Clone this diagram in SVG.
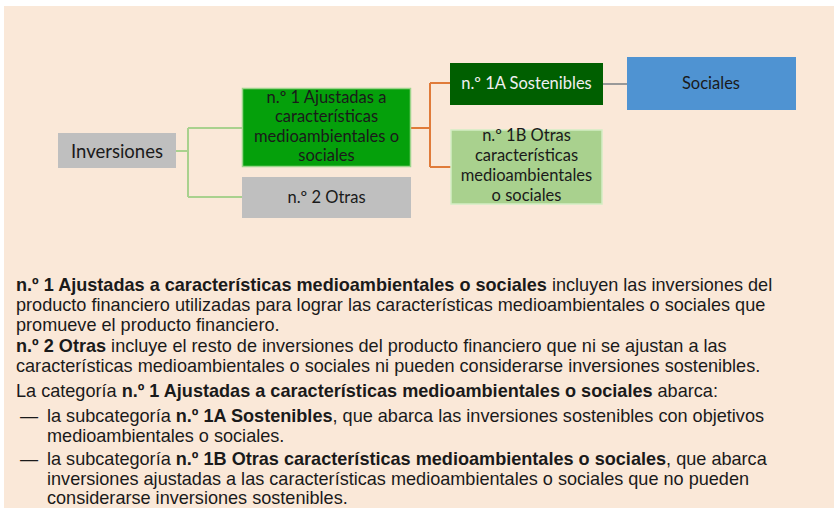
<svg xmlns="http://www.w3.org/2000/svg" width="834" height="508" viewBox="0 0 834 508">
<style>
.n{font-family:Lato,"Noto Sans",sans-serif;font-size:16.5px;text-anchor:middle;fill:#1a1a1a}
.t{font-family:"Liberation Sans",Arial,sans-serif;font-size:18.1px;fill:#1a1a1a}
.b{font-weight:bold}
.c{fill:none;stroke-width:2}
</style>
<rect x="4" y="6" width="830" height="502" fill="#FAE8D8"/>
<g id="connectors">
<path class="c" stroke="#A9D18E" d="M176 151H188M188 128V197M188 128H242M188 197H242"/>
<path class="c" stroke="#E07B39" d="M411 128H430M430 83V167M430 83H450M430 167H451"/>
<path class="c" stroke="#999999" d="M603 84H627"/>
</g>
<g id="inversiones">
<rect x="58" y="133" width="118" height="35" fill="#BFBFBF"/>
<text class="n" x="117" y="158" style="font-size:18.5px">Inversiones</text>
</g>
<g id="n1">
<rect x="242.5" y="88.5" width="168" height="78" fill="#05A00B" stroke="#9CD48A" stroke-width="1.5"/>
<text class="n" x="326.5" y="103">n.º 1 Ajustadas a</text>
<text class="n" x="326.5" y="122">características</text>
<text class="n" x="326.5" y="142">medioambientales o</text>
<text class="n" x="326.5" y="161">sociales</text>
</g>
<g id="n2">
<rect x="242" y="177" width="169" height="41" fill="#BFBFBF"/>
<text class="n" x="326.5" y="203">n.º 2 Otras</text>
</g>
<g id="n1a">
<rect x="450" y="63" width="153" height="42" fill="#005F00"/>
<text class="n" x="526.5" y="89" style="fill:#F0F0F0">n.º 1A Sostenibles</text>
</g>
<g id="sociales">
<rect x="627" y="57" width="169" height="53" fill="#4F93D2"/>
<text class="n" x="711" y="89">Sociales</text>
</g>
<g id="n1b">
<rect x="451" y="130" width="151" height="74" fill="#A9D18E" stroke="#D4EDC4" stroke-width="1.5"/>
<text class="n" x="526.5" y="141">n.º 1B Otras</text>
<text class="n" x="526.5" y="161">características</text>
<text class="n" x="526.5" y="181">medioambientales</text>
<text class="n" x="526.5" y="201">o sociales</text>
</g>
<g id="texto">
<text class="t" x="16" y="291"><tspan class="b">n.º 1 Ajustadas a características medioambientales o sociales</tspan> incluyen las inversiones del</text>
<text class="t" x="16" y="311">producto financiero utilizadas para lograr las características medioambientales o sociales que</text>
<text class="t" x="16" y="331">promueve el producto financiero.</text>
<text class="t" x="16" y="352"><tspan class="b">n.º 2 Otras</tspan> incluye el resto de inversiones del producto financiero que ni se ajustan a las</text>
<text class="t" x="16" y="372">características medioambientales o sociales ni pueden considerarse inversiones sostenibles.</text>
<text class="t" x="16" y="397">La categoría <tspan class="b">n.º 1 Ajustadas a características medioambientales o sociales</tspan> abarca:</text>
<text class="t" x="20" y="422">—</text>
<text class="t" x="47" y="422">la subcategoría <tspan class="b">n.º 1A Sostenibles</tspan>, que abarca las inversiones sostenibles con objetivos</text>
<text class="t" x="47" y="442">medioambientales o sociales.</text>
<text class="t" x="20" y="465">—</text>
<text class="t" x="47" y="465">la subcategoría <tspan class="b">n.º 1B Otras características medioambientales o sociales</tspan>, que abarca</text>
<text class="t" x="47" y="485">inversiones ajustadas a las características medioambientales o sociales que no pueden</text>
<text class="t" x="47" y="504">considerarse inversiones sostenibles.</text>
</g>
</svg>
